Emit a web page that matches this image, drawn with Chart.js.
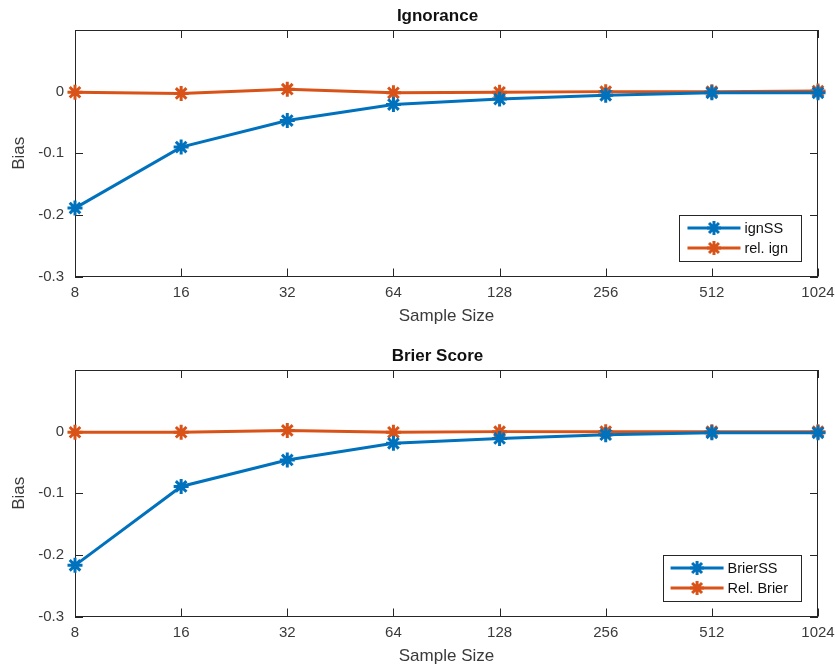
<!DOCTYPE html>
<html>
<head>
<meta charset="utf-8">
<script src="https://cdn.jsdelivr.net/npm/chart.js@4/dist/chart.umd.min.js"></script>
<style>
  html, body { margin: 0; padding: 0; background: #fff; }
  #wrap { position: relative; width: 835px; height: 671px; overflow: hidden; }
  .panel { position: absolute; left: 0; width: 835px; height: 330px; }
</style>
</head>
<body>
<div id="wrap">
  <div class="panel" style="top:0px"><canvas id="c1" width="835" height="330"></canvas></div>
  <div class="panel" style="top:340px"><canvas id="c2" width="835" height="330"></canvas></div>
</div>
<script>
// ---- data ----
const sampleSizes = [8, 16, 32, 64, 128, 256, 512, 1024];
const xTickLabels = ['8', '16', '32', '64', '128', '256', '512', '1024'];
const yTickValues = [-0.3, -0.2, -0.1, 0];
const yTickLabels = ['-0.3', '-0.2', '-0.1', '0'];

const ignSS    = [-0.189, -0.090, -0.047, -0.021, -0.012, -0.006, -0.002, -0.002];
const relIgn   = [-0.001, -0.003, 0.004, -0.002, -0.001, 0.000, 0.000, 0.001];
const brierSS  = [-0.217, -0.089, -0.046, -0.019, -0.011, -0.005, -0.002, -0.002];
const relBrier = [-0.001, -0.001, 0.002, -0.001, 0.000, 0.000, 0.000, 0.000];

const titles = ['Ignorance', 'Brier Score'];
const seriesNames = [['ignSS', 'rel. ign'], ['BrierSS', 'Rel. Brier']];
const xTitle = 'Sample Size';
const yTitle = 'Bias';

// ---- style ----
const BLUE = '#0072BD';
const ORANGE = '#D95319';
const AXIS = '#262626';
const TXT = '#3a3a3a';
const FONT = '"Liberation Sans", Arial, Helvetica, sans-serif';

function toPts(ys) { return sampleSizes.map((x, i) => ({ x: x, y: ys[i] })); }

function drawAsterisk(ctx, x, y, r, color, lw) {
  ctx.save();
  ctx.strokeStyle = color;
  ctx.lineWidth = lw;
  ctx.lineCap = 'butt';
  ctx.beginPath();
  for (let k = 0; k < 4; k++) {
    const a = k * Math.PI / 4;
    ctx.moveTo(x - r * Math.cos(a), y - r * Math.sin(a));
    ctx.lineTo(x + r * Math.cos(a), y + r * Math.sin(a));
  }
  ctx.stroke();
  ctx.restore();
}

const boxPlugin = {
  id: 'boxPlugin',
  beforeDatasetsDraw(chart) {
    const { ctx, chartArea: a, scales } = chart;
    ctx.save();
    ctx.strokeStyle = AXIS;
    ctx.lineWidth = 1;
    ctx.strokeRect(Math.round(a.left) + 0.5, Math.round(a.top) + 0.5,
                   Math.round(a.right - a.left) - 1, Math.round(a.bottom - a.top) - 1);
    const tl = 8;
    ctx.beginPath();
    scales.x.ticks.forEach(t => {
      const px = Math.round(scales.x.getPixelForValue(t.value)) + 0.5;
      ctx.moveTo(px, a.bottom); ctx.lineTo(px, a.bottom - tl);
      ctx.moveTo(px, a.top); ctx.lineTo(px, a.top + tl);
    });
    scales.y.ticks.forEach(t => {
      const py = Math.round(scales.y.getPixelForValue(t.value)) + 0.5;
      ctx.moveTo(a.left, py); ctx.lineTo(a.left + tl, py);
      ctx.moveTo(a.right, py); ctx.lineTo(a.right - tl, py);
    });
    ctx.stroke();
    ctx.restore();
  },
  afterDraw(chart, args, opts) {
    const { ctx, chartArea: a } = chart;
    // title
    ctx.save();
    ctx.fillStyle = '#111';
    ctx.font = 'bold 17px ' + FONT;
    ctx.textAlign = 'center';
    ctx.textBaseline = 'middle';
    ctx.fillText(opts.title, 437.5, 16.5);
    // legend
    ctx.font = '14.5px ' + FONT;
    const ds = chart.data.datasets;
    const tw = Math.max(...ds.map(d => ctx.measureText(d.label).width));
    const w = 8 + 53 + 4 + tw + 13;
    const h = 46;
    const right = a.right - 17;
    const bottom = a.bottom - 16;
    const left = right - w;
    const top = bottom - h;
    ctx.fillStyle = '#fff';
    ctx.fillRect(left, top, w, h);
    ctx.strokeStyle = AXIS;
    ctx.lineWidth = 1;
    ctx.strokeRect(Math.round(left) + 0.5, Math.round(top) + 0.5, Math.round(w), Math.round(h));
    ds.forEach((d, i) => {
      const yy = top + 13.5 + i * 20;
      ctx.strokeStyle = d.borderColor;
      ctx.lineWidth = 3;
      ctx.beginPath();
      ctx.moveTo(left + 8, yy); ctx.lineTo(left + 61, yy);
      ctx.stroke();
      drawAsterisk(ctx, left + 34.5, yy, 7, d.borderColor, 3);
      ctx.fillStyle = '#111';
      ctx.textAlign = 'left';
      ctx.textBaseline = 'middle';
      ctx.fillText(d.label, left + 65, yy + 0.5);
    });
    ctx.restore();
  }
};

function makeChart(id, idx, s1, s2) {
  return new Chart(document.getElementById(id), {
    type: 'line',
    data: {
      datasets: [
        { label: seriesNames[idx][0], data: toPts(s1), borderColor: BLUE, backgroundColor: BLUE,
          borderWidth: 3, pointStyle: 'star', pointRadius: 7.5, pointBorderWidth: 3,
          pointBorderColor: BLUE, pointHoverRadius: 7.5, clip: false, tension: 0 },
        { label: seriesNames[idx][1], data: toPts(s2), borderColor: ORANGE, backgroundColor: ORANGE,
          borderWidth: 3, pointStyle: 'star', pointRadius: 7.5, pointBorderWidth: 3,
          pointBorderColor: ORANGE, pointHoverRadius: 7.5, clip: false, tension: 0 }
      ]
    },
    options: {
      responsive: false,
      animation: false,
      events: [],
      layout: { padding: { top: 30, right: 17, bottom: 0, left: 0 } },
      plugins: {
        legend: { display: false },
        title: { display: false },
        tooltip: { enabled: false },
        boxPlugin: { title: titles[idx] }
      },
      scales: {
        x: {
          type: 'logarithmic',
          min: 8, max: 1024,
          grid: { display: false, drawTicks: false },
          border: { display: false },
          afterBuildTicks: (sc) => { sc.ticks = sampleSizes.map(v => ({ value: v })); },
          afterFit: (sc) => { sc.height = 53.5; sc.paddingLeft = 0; sc.paddingRight = 0; },
          ticks: {
            autoSkip: false, maxRotation: 0, padding: 7.5,
            color: TXT, font: { family: FONT, size: 15 },
            callback: (v) => { const i = sampleSizes.indexOf(v); return i >= 0 ? xTickLabels[i] : ''; }
          },
          title: { display: true, text: xTitle, color: TXT, font: { family: FONT, size: 17 },
                   padding: { top: 0, bottom: 3 } }
        },
        y: {
          type: 'linear',
          min: -0.3, max: 0.1,
          grid: { display: false, drawTicks: false },
          border: { display: false },
          afterBuildTicks: (sc) => { sc.ticks = yTickValues.map(v => ({ value: v })); },
          afterFit: (sc) => { sc.width = 75; sc.paddingTop = 0; sc.paddingBottom = 0; },
          ticks: {
            padding: 11, color: TXT, font: { family: FONT, size: 15 },
            callback: (v) => {
              const i = yTickValues.findIndex(t => Math.abs(t - v) < 1e-9);
              return i >= 0 ? yTickLabels[i] : '';
            }
          },
          title: { display: true, text: yTitle, color: TXT, font: { family: FONT, size: 17 },
                   padding: { top: 9, bottom: 0 } }
        }
      }
    },
    plugins: [boxPlugin]
  });
}

makeChart('c1', 0, ignSS, relIgn);
makeChart('c2', 1, brierSS, relBrier);
</script>
</body>
</html>
